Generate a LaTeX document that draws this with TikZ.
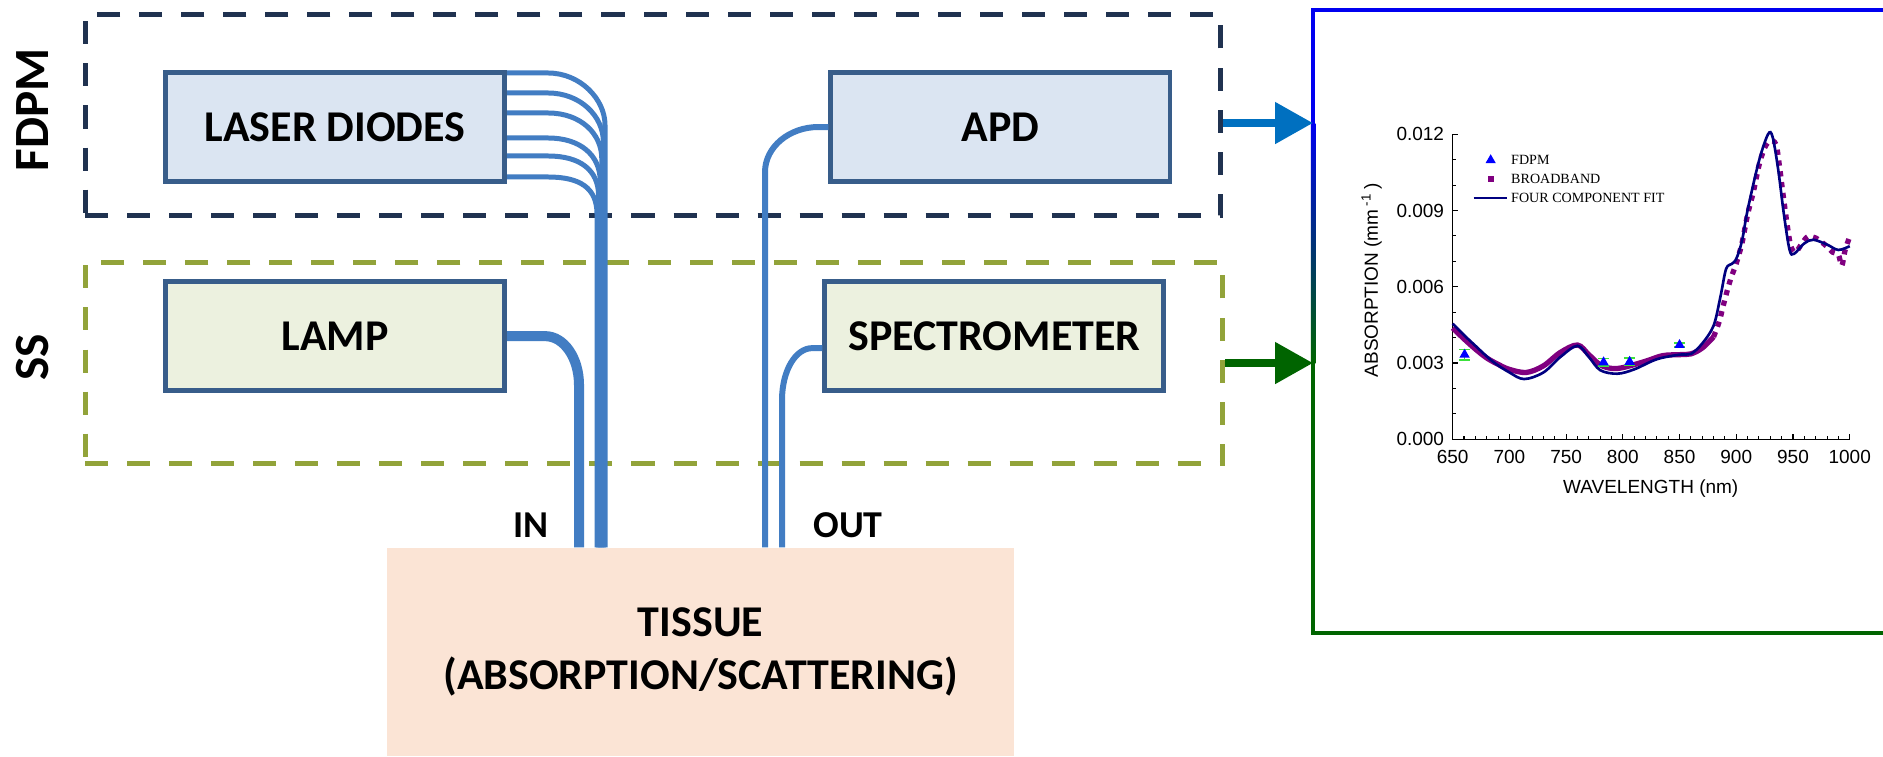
\documentclass[tikz,border=0pt]{standalone}
\usepackage{fontspec}
\setmainfont{Carlito}
\newfontfamily\plotfont{Liberation Sans}
\newfontfamily\legendfont{Liberation Serif}
\usetikzlibrary{positioning,arrows.meta,calc,plotmarks}
\definecolor{boxline}{RGB}{56,93,138}
\definecolor{fdpmfill}{RGB}{219,229,242}
\definecolor{ssfill}{RGB}{236,241,223}
\definecolor{fdpmdash}{RGB}{32,50,80}
\definecolor{ssdash}{RGB}{146,163,58}
\definecolor{tissuefill}{RGB}{251,228,213}
\definecolor{fiberblue}{RGB}{66,125,195}
\definecolor{arrowblue}{RGB}{0,112,192}
\definecolor{darkgreen}{RGB}{0,100,0}
\definecolor{panelblue}{RGB}{0,0,240}
\definecolor{fitnavy}{RGB}{0,0,128}
\definecolor{bbpurple}{RGB}{128,0,128}
\definecolor{errgreen}{RGB}{60,225,60}
\tikzset{
    fiber/.style={draw=fiberblue, line cap=butt},
    groupframe/.style={draw, line width=1.42pt, dash pattern=on 0.23cm off 0.19cm, inner sep=0pt}
}

\begin{document}
\begin{tikzpicture}[x=0.01cm, y=-0.01cm, node distance=0.95cm and 3.21cm,
    unitbox/.style={draw=boxline, line width=1.42pt, minimum width=3.39cm, minimum height=1.09cm, inner sep=0pt, font=\fontsize{12.5}{15}\selectfont\bfseries},
    sidelabel/.style={rotate=90, font=\fontsize{14}{16}\selectfont\bfseries},
    portlabel/.style={font=\fontsize{10.8}{13}\selectfont\bfseries},
    panelarrow/.style={line width=0.08cm, -{Triangle[length=0.38cm, width=0.40cm]}},
    errbar/.style={draw=errgreen, line width=0.45pt}]

\fill [white] (0,0) rectangle (1883,756);
\useasboundingbox (0,0) rectangle (1883,756);

\node [groupframe, draw=fdpmdash, minimum width=11.35cm, minimum height=2.01cm] (fdpm) at (653,115) {};
\node [groupframe, draw=ssdash, minimum width=11.37cm, minimum height=2.01cm] (ss) at (654,363) {};
\node [sidelabel] (fdpmlabel) at (33,110) {FDPM};
\node [sidelabel] (sslabel) at (33,357) {SS};

\node [unitbox, fill=fdpmfill] (laser) at (335,127) {LASER DIODES};
\node [unitbox, fill=fdpmfill, right=of laser] (apd) {APD};
\node [unitbox, fill=ssfill, below=of laser] (lamp) {LAMP};
\node [unitbox, fill=ssfill, below=of apd, xshift=-0.06cm] (spectro) {SPECTROMETER};

\node [fill=tissuefill, minimum width=6.27cm, minimum height=2.08cm, align=center,
       font=\fontsize{12.5}{15}\selectfont\bfseries] (tissue) at (700.5,652) {TISSUE\\(ABSORPTION/SCATTERING)};
\node [portlabel] (inlabel) at (531,525) {IN};
\node [portlabel] (outlabel) at (848,525) {OUT};

% source fibres (IN)
\foreach \i/\dy in {0/3,1/23,2/43,3/68,4/86,5/107} {
    \coordinate (ldrop\i) at ({605-1.6*\i},{70+\dy+52-3*\i});
    \draw [fiber, line width=1.42pt] ($(laser.north east)+(0,\dy)$) -- ++(41,0)
        .. controls +(32,0) and +(0,-26) .. (ldrop\i) -- (ldrop\i |- tissue.north);
}
\coordinate (lampdrop) at (579,385);
\draw [fiber, line width=2.85pt] (lamp.east) -- ++(38,0)
    .. controls +(19,0) and +(0,-27) .. (lampdrop) -- (lampdrop |- tissue.north);

% detector fibres (OUT)
\coordinate (apddrop) at (765,172);
\coordinate (specdrop) at (782,400);
\draw [fiber, line width=1.7pt] (apd.west) -- ++(-10,0)
    .. controls +(-29,0) and +(0,-25) .. (apddrop) -- (apddrop |- tissue.north);
\draw [fiber, line width=1.7pt] ($(spectro.west)+(0,12)$) -- ++(-10,0)
    .. controls +(-17,0) and +(0,-29) .. (specdrop) -- (specdrop |- tissue.north);

% result panel
\fill [panelblue] (1310.75,7.75) rectangle (1890,12.25);
\fill [darkgreen] (1310.75,630.75) rectangle (1890,635.25);
\fill [panelblue] (1310.75,7.75) rectangle (1315.25,123);
\shade [top color=panelblue, bottom color=darkgreen] (1310.75,123) rectangle (1315.25,363);
\fill [darkgreen] (1310.75,363) rectangle (1315.25,635.25);

\coordinate (fdpmtip) at (1313,123);
\coordinate (sstip) at (1313,363);
\draw [panelarrow, draw=arrowblue] (fdpm.east |- fdpmtip) -- (fdpmtip);
\draw [panelarrow, draw=darkgreen] (ss.east |- sstip) -- (sstip);

% absorption spectrum
\begin{scope}[shift={(7.149cm,-4.39cm)}, x=0.01134cm, y=0.254cm,
    font=\plotfont\fontsize{5.4}{6.5}\selectfont, every node/.style={inner sep=0pt}]
\draw [line width=0.35pt] (650,12) -- (650,0) -- (1000,0);
\foreach \wl in {660,670,...,990} \draw [line width=0.3pt] (\wl,0) -- ++(0,0.11);
\foreach \wl in {650,700,...,1000} {
    \draw [line width=0.35pt] (\wl,0) -- ++(0,0.2);
    \node (xt\wl) at (\wl,-0.71) {\wl};
}
\foreach \ab in {1,...,11} \draw [line width=0.3pt] (650,\ab) -- ++(2.5,0);
\foreach \ab/\ytxt in {0/0.000,3/0.003,6/0.006,9/0.009,12/0.012} {
    \draw [line width=0.35pt] (650,\ab) -- ++(4.4,0);
    \node [anchor=east] (yt\ab) at (643,\ab) {\ytxt};
}
\node (xlab) at (824.6,-1.93) {WAVELENGTH (nm)};
\node [rotate=90] (ylab) at (578.6,6.26) {ABSORPTION (mm\,\textsuperscript{-1}\,)};

\draw [bbpurple, line width=1.5pt] plot[smooth, tension=0.55] coordinates {
    (650,4.38) (660,3.95) (670,3.55) (680,3.2) (690,2.95) (700,2.75) (715,2.63)
    (730,2.89) (745,3.42) (760,3.71) (770,3.33) (780,2.93) (790,2.79) (800,2.82)
    (820,3.07) (835,3.29) (850,3.33) (860,3.36) (870,3.59) (880,4.03)};
\draw [bbpurple, line width=1.5pt, dash pattern=on 1.5pt off 1.6pt] plot[smooth, tension=0.55] coordinates {
    (880,4.03) (885,4.64) (890,5.52) (895,6.3) (900,6.92) (905,7.71) (910,8.85)
    (915,9.72) (920,10.77) (925,11.47) (930,11.74) (935,11.6) (938,10.77) (941,9.72)
    (945,8.4) (948,7.62) (952,7.36) (958,7.71) (963,7.97) (970,7.92) (978,7.66)
    (985,7.36) (990,7.27) (993,6.83) (996,7.45) (1000,7.97)};
\draw [fitnavy, line width=0.75pt] plot[smooth, tension=0.55] coordinates {
    (650,4.55) (660,4.1) (670,3.68) (685,3.07) (700,2.63) (713,2.37) (730,2.63)
    (745,3.24) (760,3.68) (770,3.24) (780,2.72) (795,2.58) (810,2.75) (830,3.15)
    (850,3.33) (860,3.36) (870,3.77) (880,4.47) (886,5.6) (891,6.7) (896,6.9)
    (900,7.1) (905,7.8) (910,9.02) (920,10.95) (928,12.0) (932,11.9) (937,10.6)
    (942,8.85) (947,7.45) (951,7.3) (960,7.71) (968,7.85) (980,7.66) (990,7.45) (1000,7.6)};

\foreach \wl/\ab/\er in {660.5/3.33/0.2, 783/3.03/0.15, 806/3.05/0.15, 850/3.71/0.08} {
    \draw [errbar] ({\wl},{\ab-\er}) -- ({\wl},{\ab+\er})
        ({\wl-5},{\ab-\er}) -- ({\wl+5},{\ab-\er}) ({\wl-5},{\ab+\er}) -- ({\wl+5},{\ab+\er});
}
\draw plot[only marks, mark=triangle*, mark size=1.3pt, mark options={draw=blue, fill=blue}]
    coordinates {(660.5,3.33) (783,3.03) (806,3.05) (850,3.71)};

% legend
\draw plot[only marks, mark=triangle*, mark size=1.3pt, mark options={draw=blue, fill=blue}]
    coordinates {(683.5,10.98)};
\draw plot[only marks, mark=square*, mark size=0.7pt, mark options={draw=bbpurple, fill=bbpurple}]
    coordinates {(683.5,10.24)};
\draw [fitnavy, line width=0.75pt] (668.5,9.49) -- (697.6,9.49);
\node [anchor=west, font=\legendfont\fontsize{4}{5}\selectfont] (lgfdpm) at (701,10.98) {FDPM};
\node [anchor=west, font=\legendfont\fontsize{4}{5}\selectfont] (lgbroad) at (701,10.24) {BROADBAND};
\node [anchor=west, font=\legendfont\fontsize{4}{5}\selectfont] (lgfit) at (701,9.49) {FOUR COMPONENT FIT};
\end{scope}

\end{tikzpicture}
\end{document}
